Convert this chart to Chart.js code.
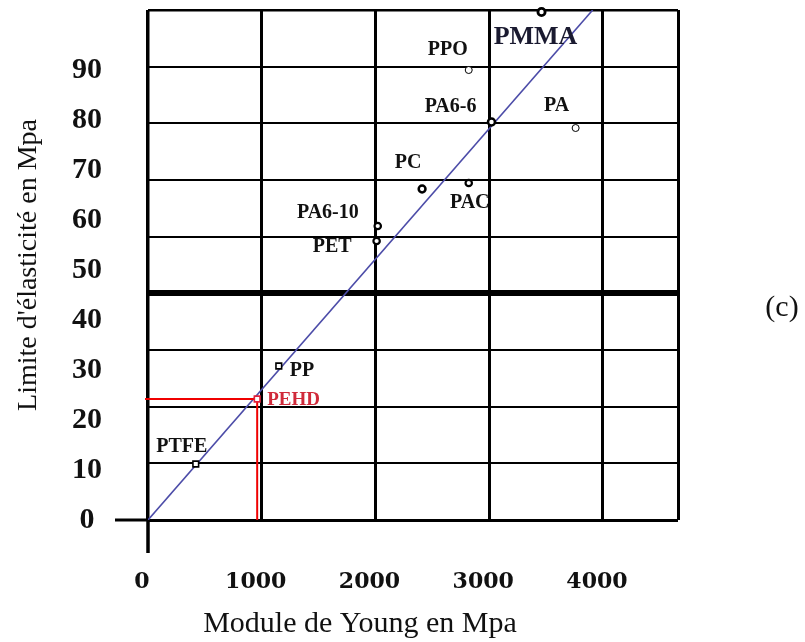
<!DOCTYPE html>
<html>
<head>
<meta charset="utf-8">
<script src="https://cdn.jsdelivr.net/npm/chart.js"></script>
<style>
  html, body { margin: 0; padding: 0; background: #fff; }
</style>
</head>
<body>
<canvas id="myChart" width="805" height="642"></canvas>
<script>
// valeurs
const materiaux = ['PTFE', 'PEHD', 'PP', 'PET', 'PA6-10', 'PC', 'PAC', 'PPO', 'PA6-6', 'PMMA', 'PA'];
const moduleYoung = [420, 960, 1150, 2010, 2020, 2410, 2820, 2820, 3020, 3460, 3760];
const limiteElast = [11.2, 24.2, 30.8, 55.8, 58.8, 66.2, 67.4, 90, 79.6, 101.6, 78.4];
// droite bleue (les deux bouts)
const droiteX = [0, 3910];
const droiteY = [0, 102];
// lecture en rouge pour le PEHD
const lectureX = [-26, 960, 960];
const lectureY = [24.2, 24.2, 0];
// axes
const xTicks = [0, 1000, 2000, 3000, 4000];
const yLabels = [0, 10, 20, 30, 40, 50, 60, 70, 80, 90];
const xMax = 4660;
const yMax = 102;
const nbCases = 9;

// styles des marqueurs
const formes = ['rect', 'rect', 'rect', 'circle', 'circle', 'circle', 'circle', 'circle', 'circle', 'circle', 'circle'];
const rayons = [4, 4, 4, 3.2, 3.2, 3.4, 3.2, 3.5, 3.5, 3.6, 3.5];
const epaisseurs = [1.6, 1.6, 1.6, 2.2, 2.2, 2.5, 2.2, 1, 2.5, 2.8, 1];
const couleurs = materiaux.map(m => m === 'PEHD' ? '#e0203a' : '#000');
// position des noms par rapport au point
const decalages = [
    [-14, -17, 'center'],
    [10, 1, 'left'],
    [11, 5, 'left'],
    [-25, 6, 'right'],
    [-19, -13, 'right'],
    [-14, -26, 'center'],
    [1, 20, 'center'],
    [-21, -20, 'center'],
    [-15, -15, 'right'],
    [-6, 25, 'center'],
    [-19, -22, 'center']
];

const pas = yMax / nbCases;
function estGrille(v) {
    const k = v / pas;
    return Math.abs(k - Math.round(k)) < 1e-6;
}

const toPts = (xs, ys) => xs.map((x, i) => ({x: x, y: ys[i]}));

const dessins = {
    id: 'dessins',
    beforeDatasetsDraw(chart) {
        const ctx = chart.ctx;
        const sx = chart.scales.x, sy = chart.scales.y;
        const x0 = sx.getPixelForValue(0), y0 = sy.getPixelForValue(0);
        ctx.save();
        ctx.strokeStyle = '#000';
        // prolongement des axes
        ctx.lineWidth = 3.5;
        ctx.beginPath();
        ctx.moveTo(x0, y0);
        ctx.lineTo(x0, y0 + 33);
        ctx.stroke();
        ctx.lineWidth = 3;
        ctx.beginPath();
        ctx.moveTo(x0 - 33, y0);
        ctx.lineTo(x0, y0);
        ctx.stroke();
        ctx.restore();
    },
    afterDatasetsDraw(chart) {
        const ctx = chart.ctx;
        const meta = chart.getDatasetMeta(0);
        ctx.save();
        ctx.textBaseline = 'middle';
        materiaux.forEach((nom, i) => {
            const p = meta.data[i];
            const d = decalages[i];
            if (nom === 'PMMA') {
                ctx.font = "bold 26px 'Liberation Serif'";
                ctx.fillStyle = '#1a1a30';
            } else if (nom === 'PEHD') {
                ctx.font = "bold 19px 'Liberation Serif'";
                ctx.fillStyle = '#d02a3a';
            } else {
                ctx.font = "bold 20px 'Liberation Serif'";
                ctx.fillStyle = '#111';
            }
            ctx.textAlign = d[2];
            ctx.fillText(nom, p.x + d[0], p.y + d[1]);
        });
        // titre de l'axe x et repere (c)
        ctx.fillStyle = '#111';
        ctx.textAlign = 'center';
        ctx.textBaseline = 'alphabetic';
        ctx.font = "30px 'Liberation Serif'";
        ctx.fillText('Module de Young en Mpa', 360, 632);
        ctx.fillText('(c)', 782, 316);
        ctx.restore();
    }
};

const config = {
    type: 'scatter',
    data: {
        datasets: [
            {
                label: 'Matériaux',
                data: toPts(moduleYoung, limiteElast),
                pointStyle: formes,
                pointRadius: rayons,
                pointBorderWidth: epaisseurs,
                pointBorderColor: couleurs,
                pointBackgroundColor: '#fff',
                clip: false,
                order: 0
            },
            {
                type: 'line',
                label: 'PEHD',
                data: toPts(lectureX, lectureY),
                borderColor: '#f00000',
                borderWidth: 2,
                pointRadius: 0,
                fill: false,
                tension: 0,
                clip: false,
                order: 1
            },
            {
                type: 'line',
                label: 'droite',
                data: toPts(droiteX, droiteY),
                borderColor: '#4c4ca8',
                borderWidth: 1.6,
                pointRadius: 0,
                fill: false,
                tension: 0,
                order: 2
            }
        ]
    },
    options: {
        responsive: false,
        animation: false,
        layout: { padding: { top: 10, right: 127, left: 0, bottom: 0 } },
        plugins: { legend: { display: false }, tooltip: { enabled: false } },
        scales: {
            x: {
                type: 'linear',
                min: 0,
                max: xMax,
                afterBuildTicks: s => { s.ticks = xTicks.concat([xMax]).map(v => ({value: v})); },
                afterFit: s => { s.height = 122; s.paddingLeft = 0; s.paddingRight = 0; },
                border: { display: false },
                grid: {
                    color: '#000',
                    lineWidth: c => (c.tick && c.tick.value === 0) ? 3.5 : 3,
                    drawTicks: false
                },
                ticks: {
                    autoSkip: false,
                    maxRotation: 0,
                    padding: 49,
                    labelOffset: -6,
                    color: '#111',
                    font: { family: "'DejaVu Serif'", size: 22, weight: 'bold' },
                    callback: v => v === xMax ? '' : String(v)
                }
            },
            y: {
                type: 'linear',
                min: 0,
                max: yMax,
                afterBuildTicks: s => {
                    const vals = new Set(yLabels);
                    for (let k = 0; k <= nbCases; k++) vals.add(k * pas);
                    s.ticks = [...vals].sort((a, b) => a - b).map(v => ({value: v}));
                },
                afterFit: s => { s.width = 148; s.paddingTop = 0; s.paddingBottom = 0; },
                border: { display: false },
                grid: {
                    drawTicks: false,
                    color: c => (c.tick && estGrille(c.tick.value)) ? '#000' : 'rgba(0,0,0,0)',
                    lineWidth: c => {
                        if (!c.tick || !estGrille(c.tick.value)) return 0;
                        const k = Math.round(c.tick.value / pas);
                        if (k === 0) return 3;
                        if (k === 4) return 6;
                        if (k === nbCases) return 2.5;
                        return 2;
                    }
                },
                ticks: {
                    autoSkip: false,
                    crossAlign: 'center',
                    padding: 46,
                    color: '#111',
                    font: { family: "'Liberation Serif'", size: 30, weight: 'bold' },
                    callback: v => yLabels.includes(v) ? String(v) : ''
                },
                title: {
                    display: true,
                    text: "Limite d'élasticité en Mpa",
                    color: '#111',
                    font: { family: "'Liberation Serif'", size: 28 },
                    padding: { top: 12, bottom: 0 }
                }
            }
        }
    },
    plugins: [dessins]
};

const myChart = new Chart(document.getElementById('myChart'), config);
</script>
</body>
</html>
